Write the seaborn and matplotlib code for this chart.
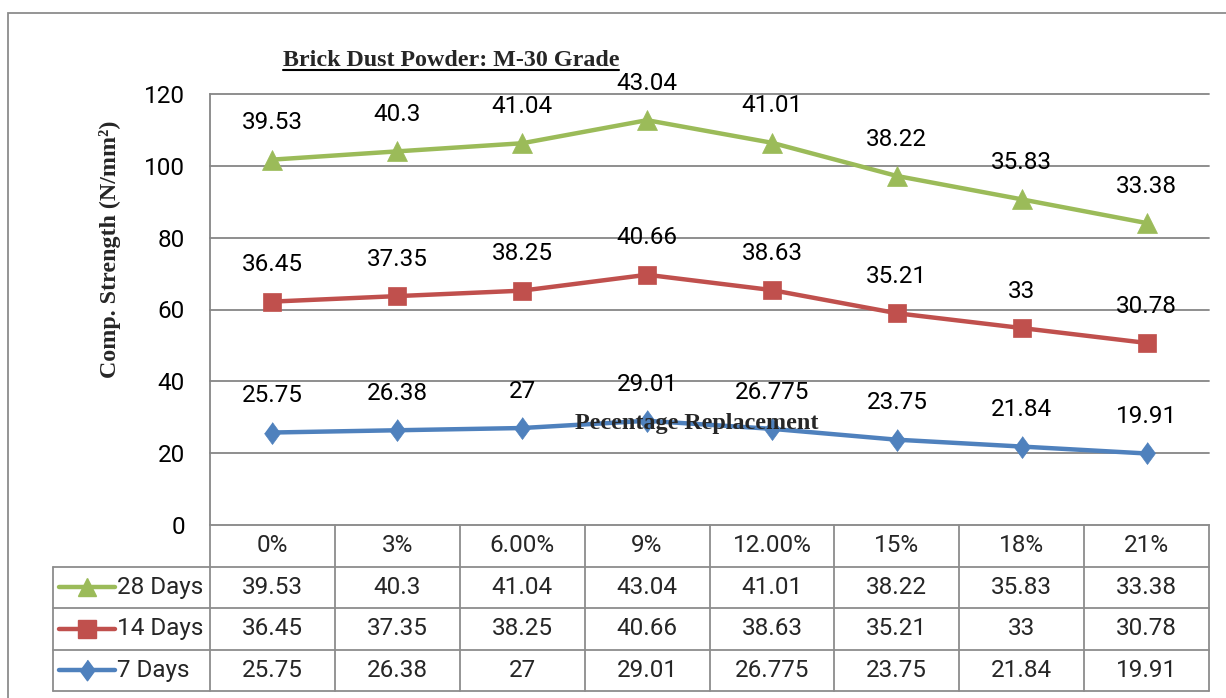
import numpy as np
import pandas as pd
import matplotlib
matplotlib.use("Agg")
import matplotlib.pyplot as plt
import seaborn as sns
from matplotlib.lines import Line2D
from matplotlib.patches import Rectangle

# ---------------- data ----------------
categories = ["0%", "3%", "6.00%", "9%", "12.00%", "15%", "18%", "21%"]
series_names = ["28 Days", "14 Days", "7 Days"]
days28 = [39.53, 40.3, 41.04, 43.04, 41.01, 38.22, 35.83, 33.38]
days14 = [36.45, 37.35, 38.25, 40.66, 38.63, 35.21, 33, 30.78]
days7 = [25.75, 26.38, 27, 29.01, 26.775, 23.75, 21.84, 19.91]
yticks = [0, 20, 40, 60, 80, 100, 120]
title = "Brick Dust Powder: M-30 Grade"
xlabel = "Pecentage Replacement"
ylabel = "Comp. Strength (N/mm\u00b2)"

colors = {"28 Days": "#9BBB59", "14 Days": "#C0504D", "7 Days": "#4F81BD"}
diamond = [(0, 1), (0.73, 0), (0, -1), (-0.73, 0)]
markers = {"28 Days": "^", "14 Days": "s", "7 Days": diamond}
msizes = {"28 Days": 14.5, "14 Days": 13.5, "7 Days": 15.8}

values = {"28 Days": days28, "14 Days": days14, "7 Days": days7}
# stacked line chart (Excel style): 7 days at bottom
cum7 = np.array(days7, dtype=float)
cum14 = cum7 + np.array(days14, dtype=float)
cum28 = cum14 + np.array(days28, dtype=float)
stacked = {"7 Days": cum7, "14 Days": cum14, "28 Days": cum28}

rows = []
for name in series_names:
    for i, c in enumerate(categories):
        rows.append({"pos": i, "cat": c, "series": name,
                     "value": values[name][i], "stacked": stacked[name][i]})
df = pd.DataFrame(rows)

# ---------------- style ----------------
sns.set_theme(style="white")
plt.rcParams["font.family"] = ["Roboto", "DejaVu Sans"]
SERIF = ["Liberation Serif", "DejaVu Serif"]
NUMFONT = 17.5
GRID = "#868686"

W, H = 1226, 698
fig = plt.figure(figsize=(W / 100, H / 100), dpi=100)
fig.patch.set_facecolor("white")


def fx(px):
    return px / W


def fy(py):
    return 1 - py / H


L, R, T, B = 210, 1209, 94, 525
ax = fig.add_axes([fx(L), fy(B), (R - L) / W, (B - T) / H])
ax.set_facecolor("white")

for name in ["7 Days", "14 Days", "28 Days"]:
    sub = df[df["series"] == name]
    sns.lineplot(data=sub, x="pos", y="stacked", ax=ax, color=colors[name],
                 marker=markers[name], markersize=msizes[name],
                 markeredgecolor=colors[name], markeredgewidth=0.5,
                 linewidth=3.2, legend=False, zorder=3, clip_on=False)
    for _, r in sub.iterrows():
        ax.annotate(f"{r['value']:g}", (r["pos"], r["stacked"]),
                    xytext=(0, 26.5), textcoords="offset points",
                    ha="center", va="center", fontsize=NUMFONT,
                    color="black", zorder=5, annotation_clip=False)

ax.set_xlim(-0.5, len(categories) - 0.5)
ax.set_ylim(yticks[0], yticks[-1])
ax.set_yticks(yticks)
ax.set_yticklabels([str(t) for t in yticks])
ax.set_xticks([])
ax.set_xlabel("")
ax.set_ylabel("")
ax.grid(False)
for t in yticks[1:]:
    ax.axhline(t, color=GRID, lw=1.3, zorder=1, clip_on=False)
ax.tick_params(axis="y", length=0, pad=18, labelsize=NUMFONT, colors="black")
for s in ["top", "right"]:
    ax.spines[s].set_visible(False)
for s in ["left", "bottom"]:
    ax.spines[s].set_color(GRID)
    ax.spines[s].set_linewidth(1.3)

# ---------------- data table ----------------
TL, TT, TB = 53, 525, 691
tax = fig.add_axes([fx(TL), fy(TB), (R - TL) / W, (TB - TT) / H])
unit = len(categories) / (R - L)
x0 = -0.5 - (L - TL) * unit
tax.set_xlim(x0, len(categories) - 0.5)
tax.set_ylim(4, 0)
tax.axis("off")
tax.patch.set_alpha(0)


def tx(px):
    return x0 + (px - TL) * unit


lc = "#8C8C8C"
lw = 1.3
for k in range(len(categories) + 1):
    tax.plot([k - 0.5, k - 0.5], [0, 4], color=lc, lw=lw, clip_on=False)
tax.plot([x0, x0], [1, 4], color=lc, lw=lw, clip_on=False)
for j in range(1, 5):
    tax.plot([x0, len(categories) - 0.5], [j, j], color=lc, lw=lw, clip_on=False)

for i, c in enumerate(categories):
    tax.text(i, 0.5, c, ha="center", va="center", fontsize=NUMFONT)

for j, name in enumerate(series_names):
    yc = j + 1.5
    for i, v in enumerate(values[name]):
        tax.text(i, yc, f"{v:g}", ha="center", va="center", fontsize=NUMFONT)
    tax.plot([tx(59), tx(115)], [yc, yc], color=colors[name], lw=3.2,
             solid_capstyle="round", clip_on=False)
    tax.plot([tx(87)], [yc], marker=markers[name], markersize=msizes[name] - 1,
             color=colors[name], markeredgecolor=colors[name], clip_on=False)
    tax.text(tx(117), yc, name, ha="left", va="center", fontsize=NUMFONT)

# ---------------- titles ----------------
fig.text(fx(110), fy(249), ylabel, rotation=90, ha="center", va="center",
         family=SERIF, weight="bold", fontsize=17.3)
fig.text(fx(697), fy(423), xlabel, ha="center", va="center",
         family=SERIF, weight="bold", fontsize=17.4, zorder=10)
ttl = fig.text(fx(451), fy(60), title, ha="center", va="center",
               family=SERIF, weight="bold", fontsize=17.3)

# outer chart border (left & top visible)
fig.add_artist(Rectangle((fx(8), fy(760)), (1400 - 8) / W, (760 - 13) / H,
                         transform=fig.transFigure, fill=False,
                         edgecolor="#8C8C8C", lw=1.3, clip_on=False))

# underline the title
fig.canvas.draw()
bb = ttl.get_window_extent(renderer=fig.canvas.get_renderer())
uy = (bb.y0 + 1) / (H)
fig.add_artist(Line2D([bb.x0 / W, bb.x1 / W], [uy, uy],
                      transform=fig.transFigure, color="black", lw=1.5))

fig.savefig("out.png", dpi=100)
